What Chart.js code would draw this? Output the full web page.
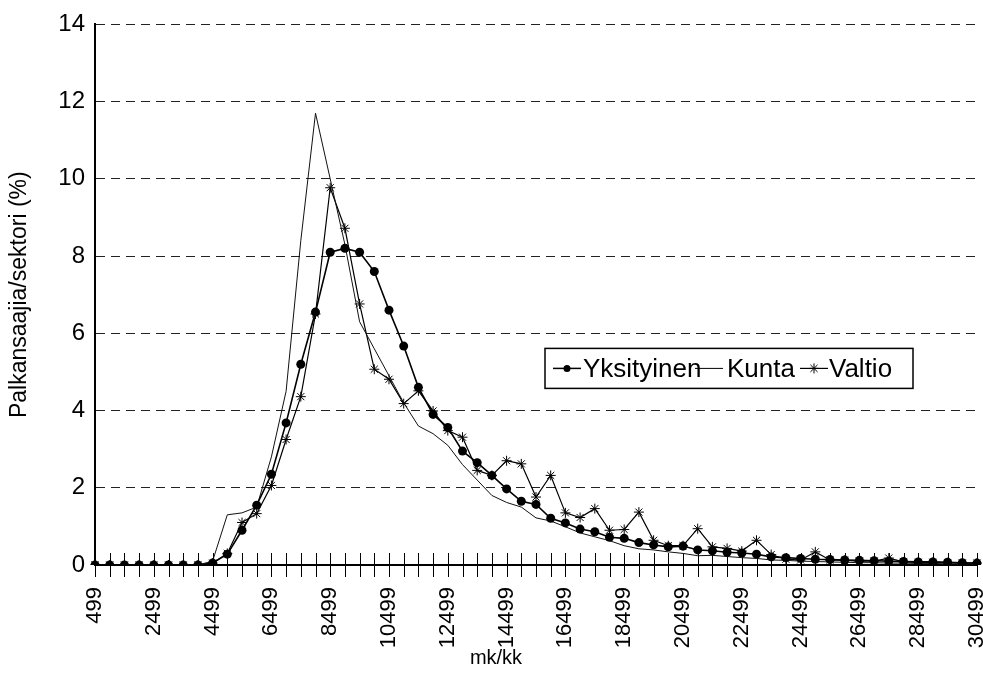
<!DOCTYPE html>
<html>
<head>
<meta charset="utf-8">
<script src="https://cdn.jsdelivr.net/npm/chart.js@4/dist/chart.umd.min.js"></script>
<style>
  html, body { margin: 0; padding: 0; background: #fff; }
  #wrap { width: 983px; height: 685px; }
</style>
</head>
<body>
<div id="wrap"><canvas id="palkat"></canvas></div>
<script>
// Palkkaluokat (mk/kk)
const palkkaluokat = [
  '499', '999', '1499', '1999', '2499', '2999', '3499', '3999', '4499', '4999',
  '5499', '5999', '6499', '6999', '7499', '7999', '8499', '8999', '9499', '9999',
  '10499', '10999', '11499', '11999', '12499', '12999', '13499', '13999', '14499', '14999',
  '15499', '15999', '16499', '16999', '17499', '17999', '18499', '18999', '19499', '19999',
  '20499', '20999', '21499', '21999', '22499', '22999', '23499', '23999', '24499', '24999',
  '25499', '25999', '26499', '26999', '27499', '27999', '28499', '28999', '29499', '29999',
  '30499'
];

// Osuudet (%) sektoreittain, luettu kuvasta
const yksityinen = [
  0, 0, 0, 0, 0, 0, 0, 0, 0.05, 0.28,
  0.9, 1.55, 2.35, 3.68, 5.2, 6.55, 8.1, 8.2, 8.1, 7.6,
  6.6, 5.67, 4.6, 3.9, 3.56, 2.95, 2.65, 2.32, 1.97, 1.65,
  1.57, 1.21, 1.09, 0.93, 0.86, 0.72, 0.69, 0.58, 0.52, 0.47,
  0.49, 0.39, 0.37, 0.33, 0.31, 0.28, 0.21, 0.19, 0.17, 0.15,
  0.14, 0.13, 0.12, 0.11, 0.1, 0.09, 0.08, 0.08, 0.07, 0.06,
  0.05
];
const kunta = [
  0, 0, 0, 0, 0, 0, 0, 0, 0.1, 1.3,
  1.35, 1.5, 2.8, 4.5, 8.4, 11.7, 10.0, 8.3, 6.3, 5.6,
  4.9, 4.2, 3.6, 3.4, 3.1, 2.6, 2.2, 1.8, 1.62, 1.5,
  1.22, 1.14, 0.99, 0.83, 0.73, 0.63, 0.5, 0.42, 0.39, 0.34,
  0.3, 0.24, 0.25, 0.22, 0.19, 0.17, 0.13, 0.12, 0.1, 0.09,
  0.08, 0.07, 0.06, 0.06, 0.05, 0.05, 0.04, 0.04, 0.03, 0.03,
  0.03
];
const valtio = [
  0, 0, 0, 0, 0, 0, 0, 0, 0.05, 0.3,
  1.1, 1.33, 2.06, 3.25, 4.36, 6.5, 9.77, 8.72, 6.76, 5.07,
  4.81, 4.18, 4.51, 3.99, 3.48, 3.31, 2.45, 2.32, 2.7, 2.62,
  1.76, 2.32, 1.35, 1.23, 1.46, 0.9, 0.92, 1.37, 0.64, 0.5,
  0.5, 0.94, 0.47, 0.43, 0.36, 0.64, 0.27, 0.15, 0.13, 0.34,
  0.13, 0.12, 0.1, 0.1, 0.18, 0.08, 0.07, 0.07, 0.06, 0.05,
  0.05
];

const fontti = '"Liberation Sans", Arial, sans-serif';

// Excel-tyyliset ristikkäiset jakoviivat x-akselille
const jakoviivat = {
  id: 'jakoviivat',
  beforeDatasetsDraw(chart) {
    const { ctx, scales: { x }, chartArea } = chart;
    ctx.save();
    ctx.strokeStyle = '#000';
    ctx.lineWidth = 1;
    ctx.beginPath();
    for (let i = 0; i < palkkaluokat.length; i++) {
      const px = Math.round(x.getPixelForValue(i)) + 0.5;
      ctx.moveTo(px, chartArea.bottom - 12);
      ctx.lineTo(px, chartArea.bottom + 12);
    }
    ctx.stroke();
    ctx.restore();
  }
};

// x-akselin otsikko (Excelissä hieman vasemmalla keskeltä)
const xOtsikko = {
  id: 'xOtsikko',
  afterDraw(chart) {
    const { ctx, chartArea } = chart;
    ctx.save();
    ctx.font = '20px ' + fontti;
    ctx.fillStyle = '#000';
    ctx.textAlign = 'center';
    ctx.textBaseline = 'middle';
    ctx.fillText('mk/kk', chartArea.left + 401, chartArea.bottom + 93);
    ctx.restore();
  }
};

// Selite laatikossa kuvaajan sisällä
const selite = {
  id: 'selite',
  afterDraw(chart) {
    const { ctx, chartArea } = chart;
    const x0 = chartArea.left + 450, y0 = chartArea.top + 324;
    const w = 368, h = 40, cy = y0 + h / 2;
    ctx.save();
    ctx.fillStyle = '#fff';
    ctx.fillRect(x0, y0, w, h);
    ctx.strokeStyle = '#000';
    ctx.lineWidth = 1.5;
    ctx.strokeRect(x0, y0, w, h);
    ctx.font = '26px ' + fontti;
    ctx.fillStyle = '#000';
    ctx.textBaseline = 'middle';
    const osat = [
      { teksti: 'Yksityinen', merkki: 'pallo', lw: 1.5, viiva: 8, teksti_x: 38 },
      { teksti: 'Kunta', merkki: null, lw: 1, viiva: 150, teksti_x: 182 },
      { teksti: 'Valtio', merkki: 'tahti', lw: 1.2, viiva: 255, teksti_x: 284 }
    ];
    osat.forEach(o => {
      const lx = x0 + o.viiva;
      ctx.beginPath();
      ctx.lineWidth = o.lw;
      ctx.moveTo(lx, cy);
      ctx.lineTo(lx + 28, cy);
      ctx.stroke();
      const mx = lx + 14;
      if (o.merkki === 'pallo') {
        ctx.beginPath();
        ctx.arc(mx, cy, 3.5, 0, Math.PI * 2);
        ctx.fill();
      } else if (o.merkki === 'tahti') {
        ctx.beginPath();
        ctx.lineWidth = 1;
        for (let k = 0; k < 4; k++) {
          const a = k * Math.PI / 4;
          ctx.moveTo(mx - 5 * Math.cos(a), cy - 5 * Math.sin(a));
          ctx.lineTo(mx + 5 * Math.cos(a), cy + 5 * Math.sin(a));
        }
        ctx.stroke();
      }
      ctx.fillText(o.teksti, x0 + o.teksti_x, cy + 1);
    });
    ctx.restore();
  }
};

new Chart(document.getElementById('palkat'), {
  type: 'line',
  data: {
    labels: palkkaluokat,
    datasets: [
      {
        label: 'Yksityinen',
        data: yksityinen,
        borderColor: '#000',
        backgroundColor: '#000',
        borderWidth: 1.6,
        pointStyle: 'circle',
        pointRadius: 4.5,
        pointBorderWidth: 0,
        tension: 0
      },
      {
        label: 'Kunta',
        data: kunta,
        borderColor: '#111',
        borderWidth: 1,
        pointRadius: 0,
        tension: 0
      },
      {
        label: 'Valtio',
        data: valtio,
        borderColor: '#000',
        backgroundColor: '#000',
        borderWidth: 1.2,
        pointStyle: 'star',
        pointRadius: 5,
        pointBorderWidth: 1,
        tension: 0
      }
    ]
  },
  options: {
    responsive: true,
    maintainAspectRatio: false,
    animation: false,
    layout: { padding: { top: 20, right: 5, left: 0, bottom: 0 } },
    plugins: {
      legend: { display: false },
      tooltip: { enabled: false }
    },
    scales: {
      x: {
        grid: { display: false },
        border: { color: '#000', width: 2 },
        ticks: {
          autoSkip: false,
          maxRotation: 90,
          minRotation: 90,
          padding: 14,
          color: '#000',
          font: { family: fontti, size: 22 },
          callback: (v, i) => (i % 4 === 0 ? palkkaluokat[i] : '')
        },
        afterFit(s) {
          s.height = 120;
          s.paddingLeft = 0;
          s.paddingRight = 0;
        }
      },
      y: {
        min: 0,
        max: 14,
        ticks: {
          stepSize: 2,
          padding: 10,
          color: '#000',
          font: { family: fontti, size: 24 }
        },
        grid: {
          color: '#222',
          lineWidth: 1,
          drawTicks: false
        },
        border: { color: '#000', width: 2, dash: [9, 6] },
        title: {
          display: true,
          text: 'Palkansaajia/sektori (%)',
          color: '#000',
          font: { family: fontti, size: 23 },
          padding: { top: 6, bottom: 0 }
        },
        afterFit(s) { s.width = 95; }
      }
    }
  },
  plugins: [jakoviivat, xOtsikko, selite]
});
</script>
</body>
</html>
